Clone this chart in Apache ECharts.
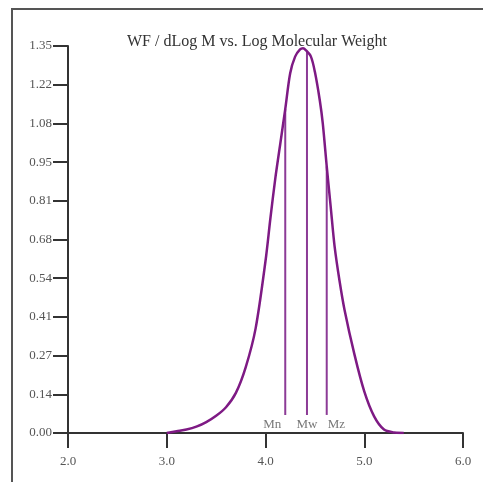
<!DOCTYPE html>
<html>
<head>
<meta charset="utf-8">
<script src="https://cdn.jsdelivr.net/npm/echarts@6/dist/echarts.min.js"></script>
<style>
html,body{margin:0;padding:0;background:#fff;}
#c{width:483px;height:482px;}
</style>
</head>
<body>
<div id="c"></div>
<script>
const titleText = 'WF / dLog M vs. Log Molecular Weight';
const xTickLabels = ['2.0', '3.0', '4.0', '5.0', '6.0'];
const yTickLabels = ['0.00', '0.14', '0.27', '0.41', '0.54', '0.68', '0.81', '0.95', '1.08', '1.22', '1.35'];
const logM = [3.00, 3.10, 3.20, 3.30, 3.40, 3.50, 3.60, 3.70, 3.80, 3.90, 4.00, 4.05, 4.10, 4.15, 4.20, 4.25, 4.30, 4.35, 4.38, 4.41, 4.46, 4.50, 4.55, 4.58, 4.62, 4.66, 4.70, 4.75, 4.80, 4.90, 5.00, 5.10, 5.20, 5.30, 5.40];
const wf = [0.000, 0.006, 0.012, 0.022, 0.038, 0.060, 0.090, 0.140, 0.230, 0.365, 0.600, 0.750, 0.890, 1.010, 1.130, 1.255, 1.313, 1.338, 1.342, 1.335, 1.313, 1.260, 1.160, 1.080, 0.930, 0.790, 0.650, 0.530, 0.430, 0.275, 0.145, 0.058, 0.012, 0.002, 0.000];
const markerNames = ['Mn', 'Mw', 'Mz'];
const markerX = [4.20, 4.42, 4.62];
const markerTop = [1.13, 1.33, 0.93];
const markerBottom = [0.063, 0.063, 0.063];

const font = 'Liberation Serif';
const chart = echarts.init(document.getElementById('c'), null, {renderer: 'canvas'});
const alignFor = ['right', 'center', 'left'];
const offsetFor = [[-4, 0], [0, 0], [1, 0]];

const series = [{
  type: 'line',
  data: logM.map((x, i) => [x, wf[i]]),
  smooth: 0.3,
  showSymbol: false,
  lineStyle: {color: '#7e1a84', width: 2.5},
  z: 5
}];
markerNames.forEach((n, i) => {
  series.push({
    type: 'line',
    data: [[markerX[i], markerBottom[i]], [markerX[i], markerTop[i]]],
    showSymbol: false,
    lineStyle: {color: '#8c3b96', width: 2},
    z: 4
  });
  series.push({
    type: 'scatter',
    data: [[markerX[i], markerBottom[i]]],
    symbolSize: 0,
    label: {
      show: true,
      formatter: n,
      position: 'bottom',
      distance: 3,
      align: alignFor[i],
      offset: offsetFor[i],
      fontFamily: font,
      fontSize: 13,
      color: '#555'
    },
    z: 6
  });
});

chart.setOption({
  animation: false,
  backgroundColor: '#fff',
  title: {
    text: titleText,
    left: 252,
    textAlign: 'center',
    top: 29,
    textStyle: {fontFamily: font, fontSize: 16, fontWeight: 'normal', color: '#333'}
  },
  graphic: [{
    type: 'rect',
    shape: {x: 12, y: 9, width: 560, height: 560},
    style: {fill: 'none', stroke: '#555', lineWidth: 2},
    silent: true
  }],
  grid: {left: 68, right: 20, top: 46, bottom: 49, containLabel: false},
  xAxis: {
    type: 'value',
    min: 2, max: 6, interval: 1,
    axisLine: {show: true, lineStyle: {color: '#333', width: 2}},
    axisTick: {show: true, inside: false, length: 15, lineStyle: {color: '#333', width: 2}},
    axisLabel: {
      margin: 22,
      fontFamily: font, fontSize: 13, color: '#555',
      formatter: v => xTickLabels[Math.round(v - 2)]
    },
    splitLine: {show: false}
  },
  yAxis: {
    type: 'value',
    min: 0, max: 1.35, interval: 0.135,
    axisLine: {show: true, lineStyle: {color: '#333', width: 2}},
    axisTick: {show: true, inside: false, length: 15, lineStyle: {color: '#333', width: 2}},
    axisLabel: {
      margin: 16,
      fontFamily: font, fontSize: 13, color: '#555',
      formatter: v => yTickLabels[Math.round(v / 0.135)]
    },
    splitLine: {show: false}
  },
  series: series
});
</script>
</body>
</html>
